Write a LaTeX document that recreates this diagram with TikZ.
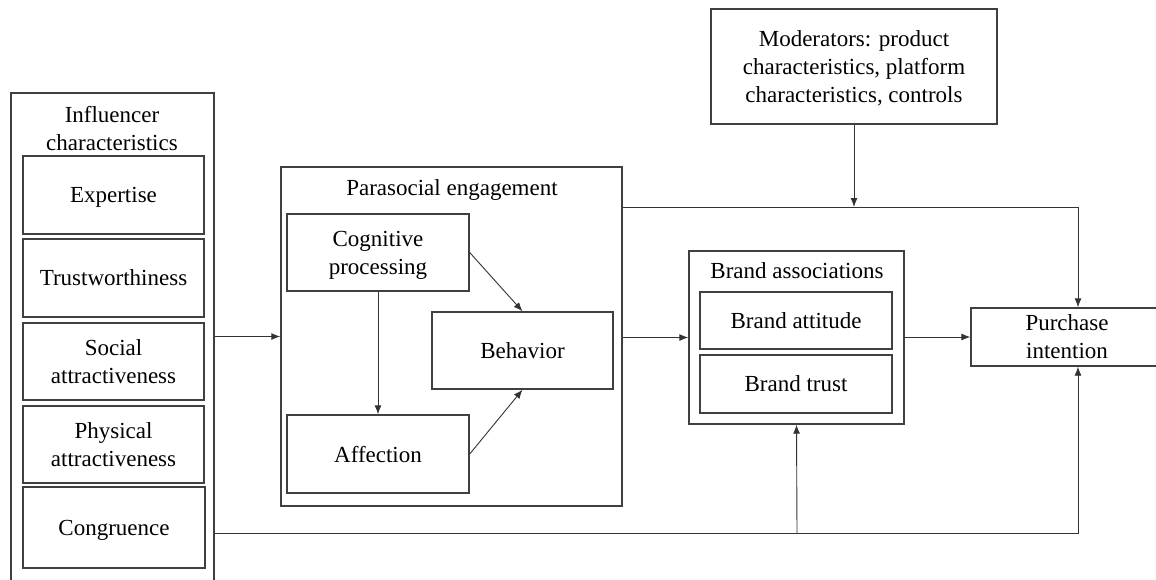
\documentclass[tikz,border=0pt]{standalone}
\usepackage{fontspec}
\setmainfont{Liberation Serif}
\usetikzlibrary{arrows.meta}
\begin{document}
\begin{tikzpicture}[x=1pt,y=-1pt,
  font=\fontsize{23}{28}\selectfont,
  bx/.style={draw=black!75,line width=1.4pt,inner sep=0pt,align=center,text depth=0pt},
  ttl/.style={inner sep=0pt,align=center,text depth=0pt},
  arr/.style={draw=black!80,line width=0.9pt,-{Latex[length=9pt,width=7pt]}},
  ln/.style={draw=black!80,line width=0.9pt}]
\useasboundingbox (0,0) rectangle (1156,579);
\clip (0,0) rectangle (1156,579);
% left column
\node[bx,minimum width=203pt,minimum height=507pt] (infl) at (112.5,346.5) {};
\node[ttl] (inflt) at (112,128.5) {Influencer\\characteristics};
\node[bx,minimum width=181pt,minimum height=78pt] (exp) at (113.5,195) {Expertise};
\node[bx,minimum width=181pt,minimum height=78pt] (trust) at (113.5,278) {Trustworthiness};
\node[bx,minimum width=181pt,minimum height=77pt] (soc) at (113.5,361.5) {Social\\attractiveness};
\node[bx,minimum width=181pt,minimum height=77pt] (phys) at (113.5,444.5) {Physical\\attractiveness};
\node[bx,minimum width=182pt,minimum height=81pt] (cong) at (114,527.5) {Congruence};
% parasocial
\node[bx,minimum width=341pt,minimum height=339pt] (psoc) at (451.5,336.5) {};
\node[ttl] (psoct) at (452,188) {Parasocial engagement};
\node[bx,minimum width=182pt,minimum height=77pt] (cog) at (378,252.5) {Cognitive\\processing};
\node[bx,minimum width=181pt,minimum height=77pt] (beh) at (522.5,350.5) {Behavior};
\node[bx,minimum width=182pt,minimum height=78pt] (aff) at (378,454) {Affection};
% brand
\node[bx,minimum width=215pt,minimum height=173pt] (brand) at (796.5,337.5) {};
\node[ttl] (brandt) at (797,271) {Brand associations};
\node[bx,minimum width=192pt,minimum height=57pt] (batt) at (796,320.5) {Brand attitude};
\node[bx,minimum width=192pt,minimum height=58pt] (btr) at (796,384) {Brand trust};
% moderators and purchase
\node[bx,minimum width=286pt,minimum height=115pt] (mod) at (854,66.5) {Moderators: product\\characteristics, platform\\characteristics, controls};
\node[bx,minimum width=192pt,minimum height=58pt] (purch) at (1067,337) {Purchase\\intention};
% connectors
\coordinate (tr) at (1078,207);
\coordinate (br) at (1078,533);
\coordinate (bm) at (797,533);
\draw[arr] (psoc.west -| infl.east) -- (psoc.west);
\draw[arr] (cog.south) -- (aff.north);
\draw[arr] (cog.east) -- (beh.north);
\draw[arr] (aff.east) -- (beh.south);
\draw[arr] (psoc.east |- brand.west) -- (brand.west);
\draw[arr] (brand.east) -- (purch.west -| brand.east) -- (purch.west);
\draw[arr] (psoc.east |- tr) -- (tr) -- (tr |- purch.north);
\draw[arr] (mod.south) -- (mod.south |- tr);
\draw[arr] (infl.east |- br) -- (br) -- (br |- purch.south);
\draw[arr] (bm) -- (brand.south);
\end{tikzpicture}
\end{document}
